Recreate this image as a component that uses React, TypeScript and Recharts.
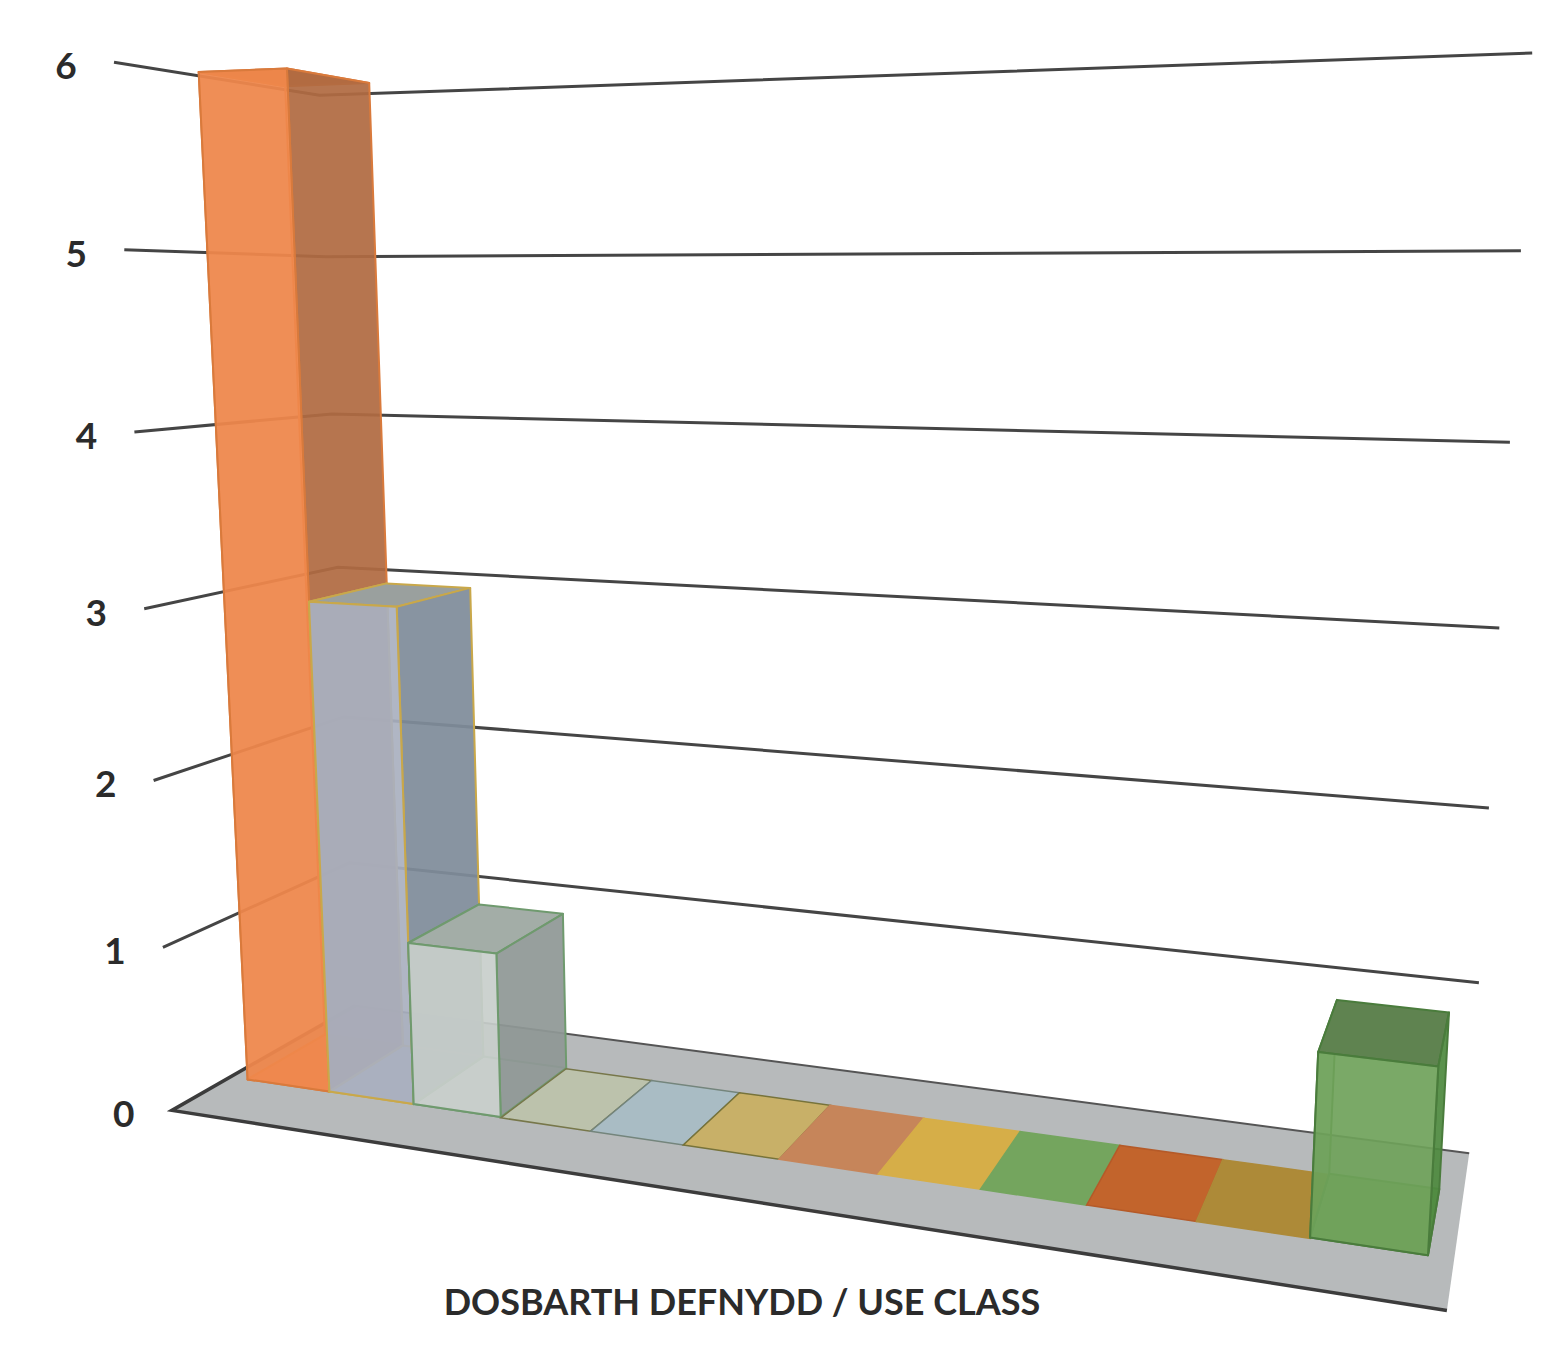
import { Bar, BarChart, CartesianGrid, XAxis, YAxis } from "recharts";

const CHART_W = 1561;
const CHART_H = 1352;

const useClasses = ["1", "2", "3", "4", "5", "6", "7", "8", "9", "10", "11", "12"];
const counts = [6, 3, 1, 0, 0, 0, 0, 0, 0, 0, 0, 1];
const yTicks = [0, 1, 2, 3, 4, 5, 6];
const axisTitle = "DOSBARTH DEFNYDD / USE CLASS";

const frontColors = ["#f0884c", "#a9b0bf", "#c8cecb", "#bcc2ac", "#a9bcc4", "#c8b068", "#c6855a", "#d6ae48", "#74a55e", "#c2642c", "#ad8a38", "#6fa25a"];
const sideColors = ["#b06b42", "#7f8c9a", "#8f9896", "", "", "", "", "", "", "", "", "#4f8a40"];
const topColors = ["#c9703c", "#9aa09e", "#a3ada7", "", "", "", "", "", "", "", "", "#5f8350"];
const edgeColors = ["#d97a3c", "#c9a84a", "#6f9a6e", "#77774a", "#74857c", "#77733a", "#c6855a", "#d6ae48", "#74a55e", "#b55a28", "#ad8a38", "#4a7c3c"];

const data = useClasses.map((name, i) => ({ name, count: counts[i] }));

// front plane of the bars on the page: (u, v) unit square -> picture, with depth towards a vanishing point
const Q = [[247, 1080], [1428, 1256], [1495, 20], [198, 72]];
const VP = [1590, 300];
const DEPTH = 0.061;
const FLOOR_L = -0.018;
const FLOOR_R = 1.018;
const FLOOR_F = -0.67;
const FLOOR_B = 1.67;

const dx1 = Q[1][0] - Q[2][0];
const dx2 = Q[3][0] - Q[2][0];
const sx = Q[0][0] - Q[1][0] + Q[2][0] - Q[3][0];
const dy1 = Q[1][1] - Q[2][1];
const dy2 = Q[3][1] - Q[2][1];
const sy = Q[0][1] - Q[1][1] + Q[2][1] - Q[3][1];
const det = dx1 * dy2 - dx2 * dy1;
const g = (sx * dy2 - dx2 * sy) / det;
const h = (dx1 * sy - sx * dy1) / det;
const a = Q[1][0] - Q[0][0] + g * Q[1][0];
const b = Q[3][0] - Q[0][0] + h * Q[3][0];
const d = Q[1][1] - Q[0][1] + g * Q[1][1];
const e = Q[3][1] - Q[0][1] + h * Q[3][1];

function project(u: number, v: number, z: number) {
    const w = g * u + h * v + 1 + DEPTH * z;
    const px = a * u + b * v + Q[0][0] + DEPTH * z * VP[0];
    const py = d * u + e * v + Q[0][1] + DEPTH * z * VP[1];
    return [px / w, py / w];
}

function pts(list: number[][]) {
    return list.map(p => p[0].toFixed(1) + "," + p[1].toFixed(1)).join(" ");
}

function BarBox(props: any) {
    const { x, y, width, height, index } = props;
    const u0 = x / CHART_W;
    const u1 = (x + width) / CHART_W;
    const v0 = 1 - (y + height) / CHART_H;
    const v1 = 1 - y / CHART_H;
    const edge = edgeColors[index];
    if (height < 0.5) {
        return <polygon points={pts([project(u0, 0, 0), project(u1, 0, 0), project(u1, 0, 1), project(u0, 0, 1)])}
                        fill={frontColors[index]} stroke={edge} strokeWidth={1.5}/>;
    }
    const side = sideColors[index];
    const top = topColors[index];
    return (
        <g stroke={edge} strokeWidth={2} strokeLinejoin="round">
            <polygon points={pts([project(u0, v0, 0), project(u1, v0, 0), project(u1, v0, 1), project(u0, v0, 1)])} fill={frontColors[index]} fillOpacity={0.8}/>
            <polygon points={pts([project(u0, v0, 0), project(u0, v1, 0), project(u0, v1, 1), project(u0, v0, 1)])} fill={side} fillOpacity={0.3}/>
            <polygon points={pts([project(u0, v1, 0), project(u1, v1, 0), project(u1, v1, 1), project(u0, v1, 1)])} fill={top}/>
            <polygon points={pts([project(u1, v0, 0), project(u1, v1, 0), project(u1, v1, 1), project(u1, v0, 1)])} fill={side} fillOpacity={0.93}/>
            <polygon points={pts([project(u0, v0, 0), project(u1, v0, 0), project(u1, v1, 0), project(u0, v1, 0)])} fill={frontColors[index]} fillOpacity={0.92}/>
        </g>
    );
}

function GridLine(props: any) {
    const v = 1 - props.y1 / CHART_H;
    if (v < 0.002) {
        const fl = project(FLOOR_L, 0, FLOOR_F);
        const fr = project(FLOOR_R, 0, FLOOR_F);
        const br = project(FLOOR_R, 0, FLOOR_B);
        const bl = project(FLOOR_L, 0, FLOOR_B);
        return (
            <g>
                <polygon points={pts([fl, fr, br, bl])} fill="#b7babb"/>
                <polyline points={pts([bl, fl, fr])} fill="none" stroke="#3c3c3c" strokeWidth={3.5}/>
                <polyline points={pts([bl, br])} fill="none" stroke="#555" strokeWidth={2}/>
            </g>
        );
    }
    return <polyline points={pts([project(FLOOR_L, v, FLOOR_F), project(FLOOR_L, v, FLOOR_B), project(FLOOR_R, v, FLOOR_B)])}
                     fill="none" stroke="#454545" strokeWidth={3}/>;
}

function YTick(props: any) {
    const v = 1 - props.y / CHART_H;
    const p = project(FLOOR_L, v, FLOOR_F);
    return (
        <text x={p[0] - 48} y={p[1] + 17} textAnchor="middle" fontFamily="Lato" fontWeight={700} fontSize={37} fill="#2b2b2b">
            {props.payload.value}
        </text>
    );
}

export default function App() {
    return (
        <div style={{ position: "absolute", left: 0, top: 0, width: CHART_W, height: CHART_H }}>
            <BarChart width={CHART_W} height={CHART_H} data={data} margin={{ top: 0, right: 0, bottom: 0, left: 0 }} barCategoryGap={0}>
                <CartesianGrid vertical={false} horizontal={(p: any) => <GridLine key={p.key} {...p}/>}/>
                <XAxis dataKey="name" height={1} tick={false} axisLine={false} tickLine={false}
                       label={{ value: axisTitle, position: "insideBottom", offset: 37, dx: -39, fontFamily: "Lato", fontWeight: 700, fontSize: 36, fill: "#2b2b2b" }}/>
                <YAxis width={1} domain={[0, 6]} ticks={yTicks} interval={0} axisLine={false} tickLine={false} tick={<YTick/>}/>
                <Bar dataKey="count" isAnimationActive={false} shape={<BarBox/>}/>
            </BarChart>
        </div>
    );
}
